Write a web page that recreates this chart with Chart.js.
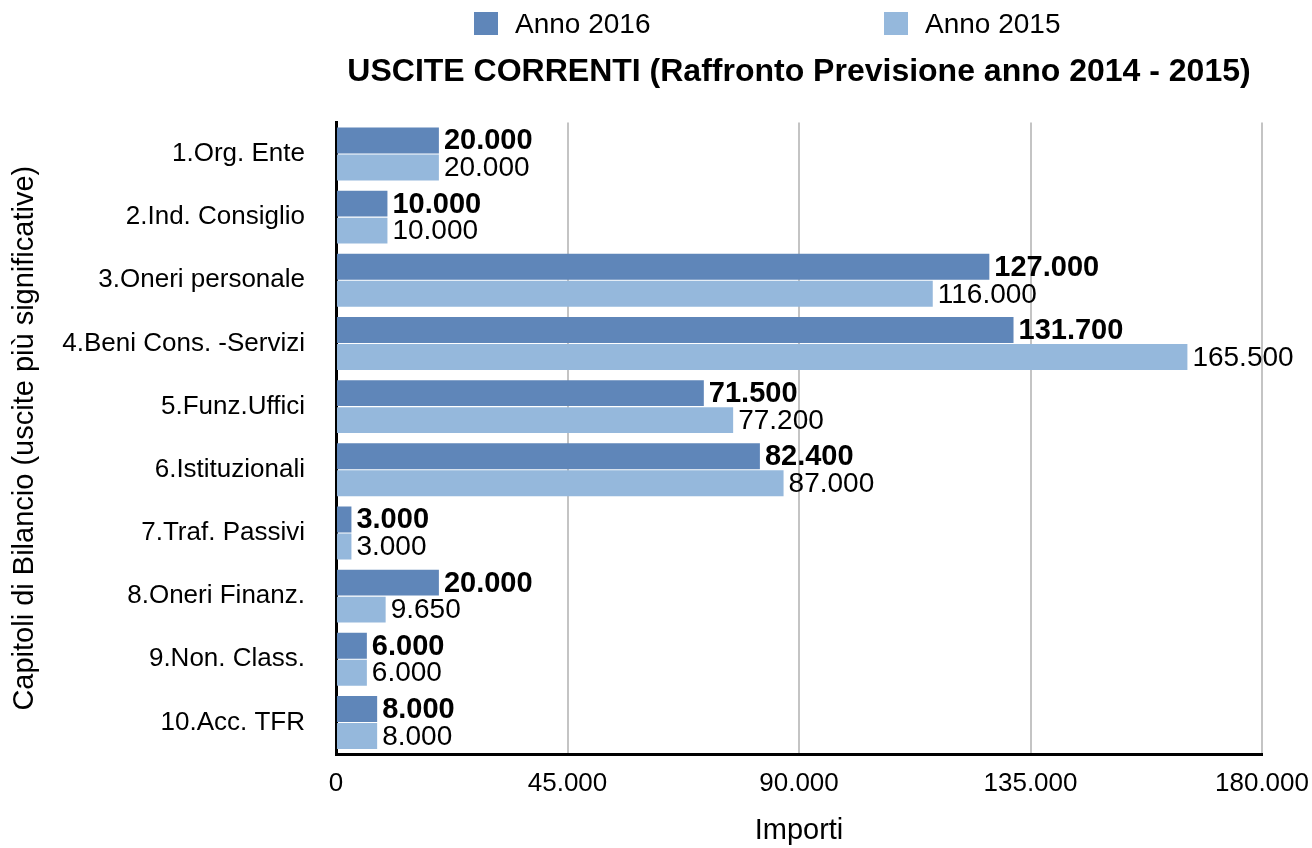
<!DOCTYPE html>
<html>
<head>
<meta charset="utf-8">
<script src="https://cdn.jsdelivr.net/npm/chart.js@4"></script>
<style>
  html, body { margin: 0; padding: 0; background: #fff; }
  canvas { display: block; }
</style>
</head>
<body>
<canvas id="usciteChart" width="1312" height="848"></canvas>
<script>
const categories = [
    '1.Org. Ente',
    '2.Ind. Consiglio',
    '3.Oneri personale',
    '4.Beni Cons. -Servizi',
    '5.Funz.Uffici',
    '6.Istituzionali',
    '7.Traf. Passivi',
    '8.Oneri Finanz.',
    '9.Non. Class.',
    '10.Acc. TFR'
];
const anno2016 = [20000, 10000, 127000, 131700, 71500, 82400, 3000, 20000, 6000, 8000];
const anno2015 = [20000, 10000, 116000, 165500, 77200, 87000, 3000, 9650, 6000, 8000];
const xTicks = [0, 45000, 90000, 135000, 180000];

const FONT = "'Liberation Sans', Arial, Helvetica, sans-serif";

function fmt(v) {
    return v.toString().replace(/\B(?=(\d{3})+(?!\d))/g, '.');
}

// value labels at the end of every bar
const barLabels = {
    id: 'barLabels',
    afterDatasetsDraw(chart) {
        const ctx = chart.ctx;
        ctx.save();
        ctx.fillStyle = '#000';
        ctx.textAlign = 'left';
        ctx.textBaseline = 'middle';
        chart.data.datasets.forEach((ds, i) => {
            const meta = chart.getDatasetMeta(i);
            ctx.font = i === 0 ? 'bold 29px ' + FONT : '28px ' + FONT;
            meta.data.forEach((bar, j) => {
                ctx.fillText(fmt(ds.data[j]), bar.x + 5, bar.y + 1);
            });
        });
        ctx.restore();
    }
};

// legend spread across the top, like the original
const topLegend = {
    id: 'topLegend',
    afterDraw(chart) {
        const ctx = chart.ctx;
        const starts = [474, 884];
        ctx.save();
        ctx.font = '28px ' + FONT;
        ctx.textBaseline = 'middle';
        ctx.textAlign = 'left';
        chart.data.datasets.forEach((ds, i) => {
            ctx.fillStyle = ds.backgroundColor;
            ctx.fillRect(starts[i], 12, 24, 23);
            ctx.fillStyle = '#000';
            ctx.fillText(ds.label, starts[i] + 41, 25);
        });
        ctx.restore();
    }
};

// center the title over the plot area instead of the whole canvas
const titleOverPlot = {
    id: 'titleOverPlot',
    afterLayout(chart) {
        const t = chart.titleBlock;
        if (t) {
            t.left = chart.chartArea.left;
            t.right = chart.chartArea.right;
            t.width = t.right - t.left;
        }
    }
};

const ctx = document.getElementById('usciteChart').getContext('2d');
const usciteChart = new Chart(ctx, {
    type: 'bar',
    data: {
        labels: categories,
        datasets: [{
            label: 'Anno 2016',
            data: anno2016,
            backgroundColor: '#5f86b9',
            barPercentage: 0.96,
            categoryPercentage: 0.855
        }, {
            label: 'Anno 2015',
            data: anno2015,
            backgroundColor: '#95b8dc',
            barPercentage: 0.96,
            categoryPercentage: 0.855
        }]
    },
    options: {
        indexAxis: 'y',
        responsive: false,
        animation: false,
        devicePixelRatio: 1,
        layout: {
            padding: { top: 40, left: 8, right: 0, bottom: 0 }
        },
        plugins: {
            legend: { display: false },
            tooltip: { enabled: false },
            title: {
                display: true,
                text: 'USCITE CORRENTI (Raffronto Previsione anno 2014 - 2015)',
                color: '#000',
                font: { family: FONT, size: 32, weight: 'bold' },
                padding: { top: 13, bottom: 31 }
            }
        },
        scales: {
            x: {
                min: 0,
                max: 180000,
                afterBuildTicks: (axis) => {
                    axis.ticks = xTicks.map(v => ({ value: v }));
                },
                afterFit: (axis) => {
                    axis.paddingRight = 50;
                },
                grid: {
                    color: (c) => c.index === 0 ? 'rgba(0,0,0,0)' : '#c4c4c4',
                    lineWidth: 2,
                    drawTicks: false
                },
                border: { color: '#000', width: 3 },
                ticks: {
                    color: '#000',
                    padding: 14,
                    font: { family: FONT, size: 26 },
                    callback: (v) => fmt(v)
                },
                title: {
                    display: true,
                    text: 'Importi',
                    color: '#000',
                    font: { family: FONT, size: 29 },
                    padding: { top: 0, bottom: 0 }
                }
            },
            y: {
                afterFit: (axis) => {
                    axis.width = 328;
                },
                grid: { display: false, drawTicks: false },
                border: { color: '#000', width: 3 },
                ticks: {
                    color: '#000',
                    padding: 31,
                    font: { family: FONT, size: 26 }
                },
                title: {
                    display: true,
                    text: 'Capitoli di Bilancio (uscite più significative)',
                    color: '#000',
                    font: { family: FONT, size: 29 },
                    padding: { top: 0, bottom: 0 }
                }
            }
        }
    },
    plugins: [barLabels, topLegend, titleOverPlot]
});
</script>
</body>
</html>
